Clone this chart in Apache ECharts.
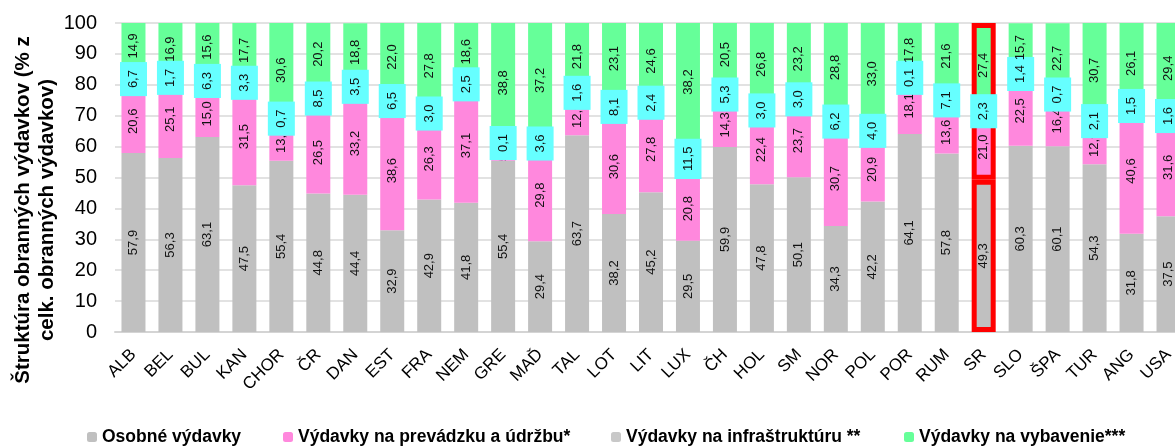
<!DOCTYPE html>
<html>
<head>
<meta charset="utf-8">
<script src="https://cdn.jsdelivr.net/npm/echarts@6/dist/echarts.min.js"></script>
<style>
  html, body { margin:0; padding:0; background:#fff; }
  #chart { width:1175px; height:446px; }
</style>
</head>
<body>
<div id="chart"></div>
<script>
// krajiny NATO
var countries = ['ALB','BEL','BUL','KAN','CHOR','ČR','DAN','EST','FRA','NEM','GRE','MAĎ','TAL','LOT','LIT','LUX','ČH','HOL','SM','NOR','POL','POR','RUM','SR','SLO','ŠPA','TUR','ANG','USA'];

var personnel   = [57.9,56.3,63.1,47.5,55.4,44.8,44.4,32.9,42.9,41.8,55.4,29.4,63.7,38.2,45.2,29.5,59.9,47.8,50.1,34.3,42.2,64.1,57.8,49.3,60.3,60.1,54.3,31.8,37.5];
var operation   = [20.6,25.1,15.0,31.5,13.3,26.5,33.2,38.6,26.3,37.1,5.7,29.8,12.9,30.6,27.8,20.8,14.3,22.4,23.7,30.7,20.9,18.1,13.6,21.0,22.5,16.4,12.9,40.6,31.6];
var infra       = [6.7,1.7,6.3,3.3,0.7,8.5,3.5,6.5,3.0,2.5,0.1,3.6,1.6,8.1,2.4,11.5,5.3,3.0,3.0,6.2,4.0,0.1,7.1,2.3,1.4,0.7,2.1,1.5,1.6];
var equipment   = [14.9,16.9,15.6,17.7,30.6,20.2,18.8,22.0,27.8,18.6,38.8,37.2,21.8,23.1,24.6,38.2,20.5,26.8,23.2,28.8,33.0,17.8,21.6,27.4,15.7,22.7,30.7,26.1,29.4];

var seriesNames = ['Osobné výdavky','Výdavky na prevádzku a údržbu*','Výdavky na infraštruktúru **','Výdavky na vybavenie***'];
var colors = ['#c0c0c0','#ff88dd','#c8c8c8','#66ff99'];
var highlight = 'SR';

function fmt(v){ return v.toFixed(1).replace('.', ','); }

function buildData(values){
  return values.map(function(v, i){
    if (countries[i] === highlight) {
      return { value: v, itemStyle: { borderColor: '#ff0000', borderWidth: 5 } };
    }
    return v;
  });
}

var baseLabel = {
  show: true,
  position: 'inside',
  rotate: 90,
  fontFamily: 'Liberation Sans, Arial',
  fontSize: 13,
  color: '#111',
  formatter: function(p){ return fmt(p.value); }
};

var chart = echarts.init(document.getElementById('chart'));

var series = [personnel, operation, infra, equipment].map(function(vals, k){
  var label = Object.assign({}, baseLabel);
  if (k === 2) {
    label.backgroundColor = '#66ffff';
    label.padding = [6, 8];
    label.lineHeight = 15;
  }
  return {
    name: seriesNames[k],
    type: 'bar',
    stack: 'total',
    barWidth: 24,
    itemStyle: { color: colors[k] },
    label: label,
    labelLayout: { hideOverlap: false },
    data: buildData(vals)
  };
});

var legendLeft = [82, 278, 606, 899];
var legends = seriesNames.map(function(n, k){
  return {
    data: [n],
    left: legendLeft[k],
    top: 423,
    itemWidth: 10,
    itemHeight: 10,
    selectedMode: false,
    textStyle: { fontFamily: 'Liberation Sans, Arial', fontWeight: 'bold', fontSize: 17.5, color: '#000' }
  };
});

option = {
  animation: false,
  color: colors,
  legend: legends,
  grid: { left: 115, top: 23, height: 309, width: 1072, containLabel: false, outerBoundsMode: 'none' },
  graphic: [{
    type: 'text',
    x: 35,
    y: 210,
    rotation: Math.PI / 2,
    style: {
      text: 'Štruktúra obranných výdavkov (% z\ncelk. obranných výdavkov)',
      align: 'center',
      verticalAlign: 'middle',
      fontFamily: 'Liberation Sans, Arial',
      fontWeight: 'bold',
      fontSize: 20.5,
      lineHeight: 24,
      fill: '#000'
    }
  }],
  xAxis: {
    type: 'category',
    data: countries,
    axisTick: { show: false },
    axisLine: { lineStyle: { color: '#d4d4d4', width: 2 } },
    axisLabel: {
      interval: 0,
      rotate: 45,
      margin: 20,
      fontFamily: 'Liberation Sans, Arial',
      fontSize: 17,
      color: '#000'
    }
  },
  yAxis: {
    type: 'value',
    min: 0,
    max: 100,
    interval: 10,
    axisLine: { show: false },
    axisTick: { show: false },
    splitLine: { lineStyle: { color: '#d9d9d9', width: 1.5 } },
    axisLabel: {
      margin: 18,
      fontFamily: 'Liberation Sans, Arial',
      fontSize: 20,
      color: '#000'
    }
  },
  series: series
};

chart.setOption(option);
</script>
</body>
</html>
